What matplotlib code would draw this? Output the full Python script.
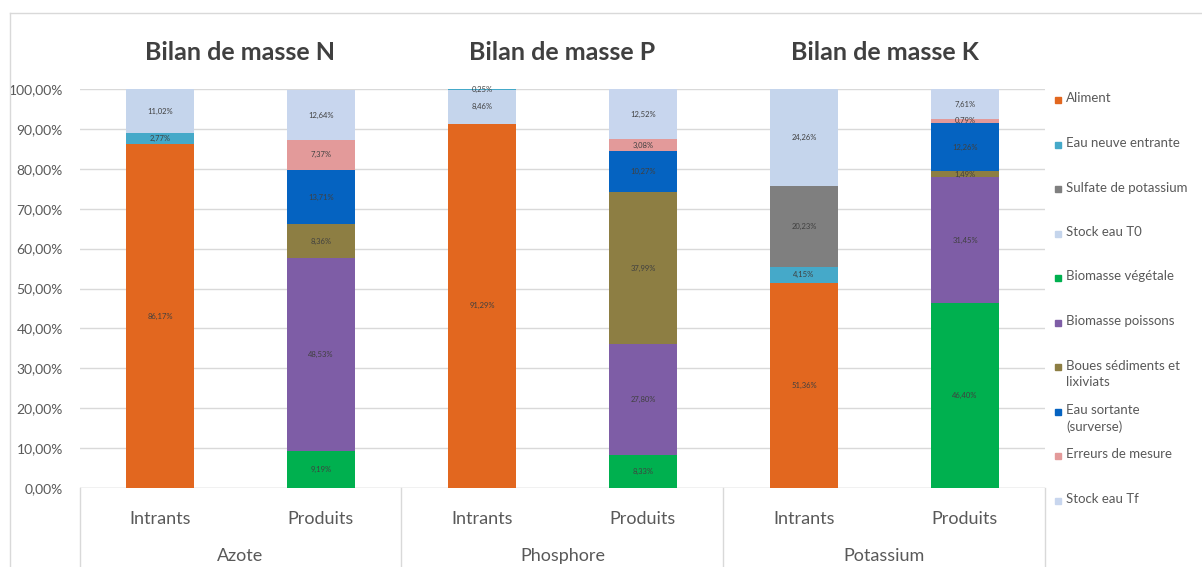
import numpy as np
import matplotlib
matplotlib.use("Agg")
import matplotlib.pyplot as plt
import matplotlib.transforms as mtransforms
from matplotlib.lines import Line2D

plt.rcParams["font.family"] = ["Lato", "DejaVu Sans"]

# données (en %)
titles = ["Bilan de masse N", "Bilan de masse P", "Bilan de masse K"]
groups = ["Azote", "Phosphore", "Potassium"]
bars = ["Intrants", "Produits", "Intrants", "Produits", "Intrants", "Produits"]

series = ["Aliment", "Eau neuve entrante", "Sulfate de potassium", "Stock eau T0",
          "Biomasse végétale", "Biomasse poissons", "Boues sédiments et\nlixiviats",
          "Eau sortante\n(surverse)", "Erreurs de mesure", "Stock eau Tf"]
colors = ["#E2671F", "#45A9C9", "#7F7F7F", "#C5D5EC", "#00B04F",
          "#7E5DA6", "#8D7E43", "#0563C1", "#E39A9A", "#C8D6EE"]

aliment = [86.17, 0, 91.29, 0, 51.36, 0]
eau_neuve = [2.77, 0, 0.25, 0, 4.15, 0]
sulfate = [0, 0, 0, 0, 20.23, 0]
stock_t0 = [11.02, 0, 8.46, 0, 24.26, 0]
bio_veg = [0, 9.19, 0, 8.33, 0, 46.40]
bio_poissons = [0, 48.53, 0, 27.80, 0, 31.45]
boues = [0, 8.36, 0, 37.99, 0, 1.49]
eau_sortante = [0, 13.71, 0, 10.27, 0, 12.26]
erreurs = [0, 7.37, 0, 3.08, 0, 0.79]
stock_tf = [0, 12.64, 0, 12.52, 0, 7.61]

values = [aliment, eau_neuve, sulfate, stock_t0, bio_veg, bio_poissons,
          boues, eau_sortante, erreurs, stock_tf]

# ordre d'empilement (P intrants : eau neuve tout en haut)
default_order = list(range(len(series)))
stack_order = {2: [0, 2, 3, 1, 4, 5, 6, 7, 8, 9]}

fig = plt.figure(figsize=(12.02, 5.67), dpi=100)
W, H = 1202, 567
ax = fig.add_axes([79.5 / W, (H - 488) / H, 966 / W, 399 / H])

x = np.arange(len(bars))
width = 0.42
for i in x:
    bottom = 0
    for s in stack_order.get(i, default_order):
        v = values[s][i]
        if v <= 0:
            continue
        ax.bar(i, v, width, bottom=bottom, color=colors[s], zorder=3)
        ax.text(i, bottom + v / 2, f"{v:.2f}".replace(".", ",") + "%",
                ha="center", va="center", fontsize=5.5, color="#404040", zorder=4)
        bottom += v

ax.set_xlim(-0.5, 5.5)
ax.set_ylim(0, 100)
ax.set_yticks(np.arange(0, 101, 10))
ax.set_yticklabels([f"{t},00%" for t in range(0, 101, 10)], fontsize=10, color="#595959")
ax.tick_params(axis="y", length=0, pad=12)
ax.set_xticks([])
ax.yaxis.grid(True, color="#D9D9D9", linewidth=1, zorder=0)
for sp in ax.spines.values():
    sp.set_visible(False)
ax.axhline(0, color="#D9D9D9", linewidth=1, zorder=2)

trans = mtransforms.blended_transform_factory(ax.transData, fig.transFigure)
for i, lab in enumerate(bars):
    ax.text(i, (H - 519) / H, lab, transform=trans, ha="center", va="center",
            fontsize=13, color="#595959")
for g, name in enumerate(groups):
    ax.text(2 * g + 0.5, (H - 556) / H, name, transform=trans, ha="center", va="center",
            fontsize=13, color="#595959")
    ax.text(2 * g + 0.5, (H - 52) / H, titles[g], transform=trans, ha="center", va="center",
            fontsize=18, fontweight="bold", color="#404040")
for xb in [-0.5, 1.5, 3.5, 5.5]:
    fig.add_artist(Line2D([xb, xb], [(H - 488) / H, 0], transform=trans,
                          color="#D9D9D9", linewidth=1))

# cadre
fig.add_artist(Line2D([10 / W, 10 / W], [0, (H - 13) / H], transform=fig.transFigure,
                      color="#D9D9D9", linewidth=1))
fig.add_artist(Line2D([10 / W, 1], [(H - 13) / H, (H - 13) / H], transform=fig.transFigure,
                      color="#D9D9D9", linewidth=1))

# légende
for k, name in enumerate(series):
    y = (H - (100 + k * 44.5)) / H
    fig.add_artist(Line2D([1058 / W], [y], marker="s", markersize=5, color=colors[k],
                          linestyle="none", transform=fig.transFigure))
    fig.text(1066 / W, y + 7.5 / H, name, ha="left", va="top", fontsize=9.5,
             color="#595959", linespacing=1.4)

fig.savefig("out.png", dpi=100)
